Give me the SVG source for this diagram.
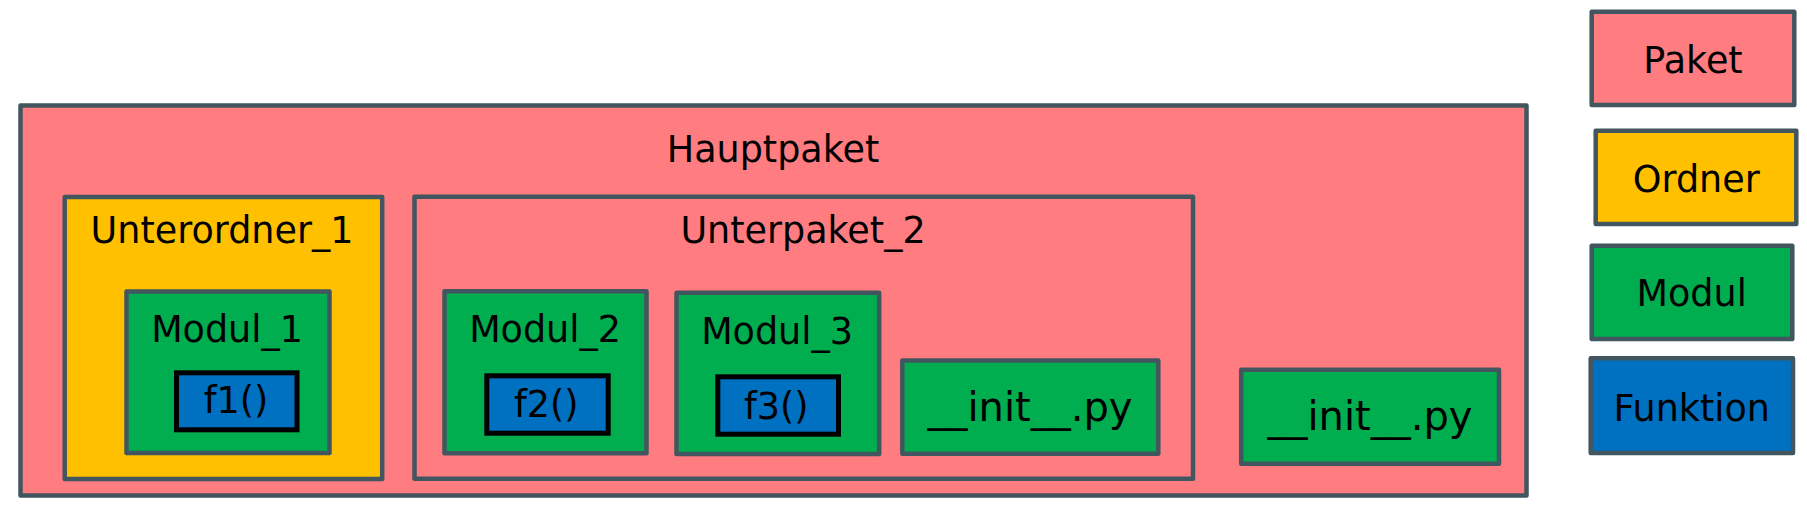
<svg xmlns="http://www.w3.org/2000/svg" width="1807" height="511" viewBox="0 0 1807 511">
<style>
.box{stroke:#41565f;stroke-width:4.5;stroke-linejoin:round}
.paket{fill:#ff7c80}
.ordner{fill:#ffc000}
.modul{fill:#00ad4f}
.funk{fill:#0070c0}
.fn{fill:#0070c0;stroke:#000;stroke-width:5;stroke-linejoin:miter}
text{font-family:"DejaVu Sans","Verdana",sans-serif;font-size:36.5px;fill:#000;text-anchor:middle}
text.init{font-size:40px}
</style>
<rect width="1807" height="511" fill="#fff"/>
<g id="hauptpaket">
<rect class="box paket" x="20.5" y="105.5" width="1506" height="390"/>
<text x="773" y="161.7">Hauptpaket</text>
</g>
<g id="unterordner_1">
<rect class="box ordner" x="64.7" y="197" width="317.5" height="282"/>
<text x="222" y="242.7">Unterordner_1</text>
</g>
<g id="modul_1">
<rect class="box modul" x="126.5" y="291.5" width="203" height="161.5"/>
<text x="227" y="341.7">Modul_1</text>
</g>
<g id="f1">
<rect class="fn" x="176.5" y="372.8" width="120.5" height="57"/>
<text x="236" y="413.3">f1()</text>
</g>
<g id="unterpaket_2">
<rect class="box paket" x="414.5" y="196.7" width="778.5" height="282"/>
<text x="803" y="243">Unterpaket_2</text>
</g>
<g id="modul_2">
<rect class="box modul" x="444.5" y="291.3" width="202" height="162"/>
<text x="545" y="342.3">Modul_2</text>
</g>
<g id="f2">
<rect class="fn" x="486.8" y="375.8" width="121.4" height="57.4"/>
<text x="546.3" y="417.3">f2()</text>
</g>
<g id="modul_3">
<rect class="box modul" x="676.5" y="292.7" width="202.7" height="161.3"/>
<text x="777" y="344">Modul_3</text>
</g>
<g id="f3">
<rect class="fn" x="717.8" y="376.8" width="120.7" height="57.4"/>
<text x="776.3" y="419">f3()</text>
</g>
<g id="init_unterpaket">
<rect class="box modul" x="902.3" y="360.5" width="256" height="93.3"/>
<text class="init" x="1030" y="420.7">__init__.py</text>
</g>
<g id="init_hauptpaket">
<rect class="box modul" x="1241.2" y="369.8" width="257.8" height="94"/>
<text class="init" x="1370" y="430">__init__.py</text>
</g>
<g id="legend_paket">
<rect class="box paket" x="1591.7" y="11.7" width="202.6" height="93.3"/>
<text x="1693" y="72.7">Paket</text>
</g>
<g id="legend_ordner">
<rect class="box ordner" x="1595.7" y="130.7" width="200.6" height="93.3"/>
<text x="1696.3" y="191.7">Ordner</text>
</g>
<g id="legend_modul">
<rect class="box modul" x="1591.7" y="245.7" width="200.6" height="93.3"/>
<text x="1691.7" y="306">Modul</text>
</g>
<g id="legend_funktion">
<rect class="box funk" x="1590.7" y="358.3" width="202.3" height="94.7"/>
<text x="1691.7" y="420.7">Funktion</text>
</g>
<g id="connectors"/>
</svg>
